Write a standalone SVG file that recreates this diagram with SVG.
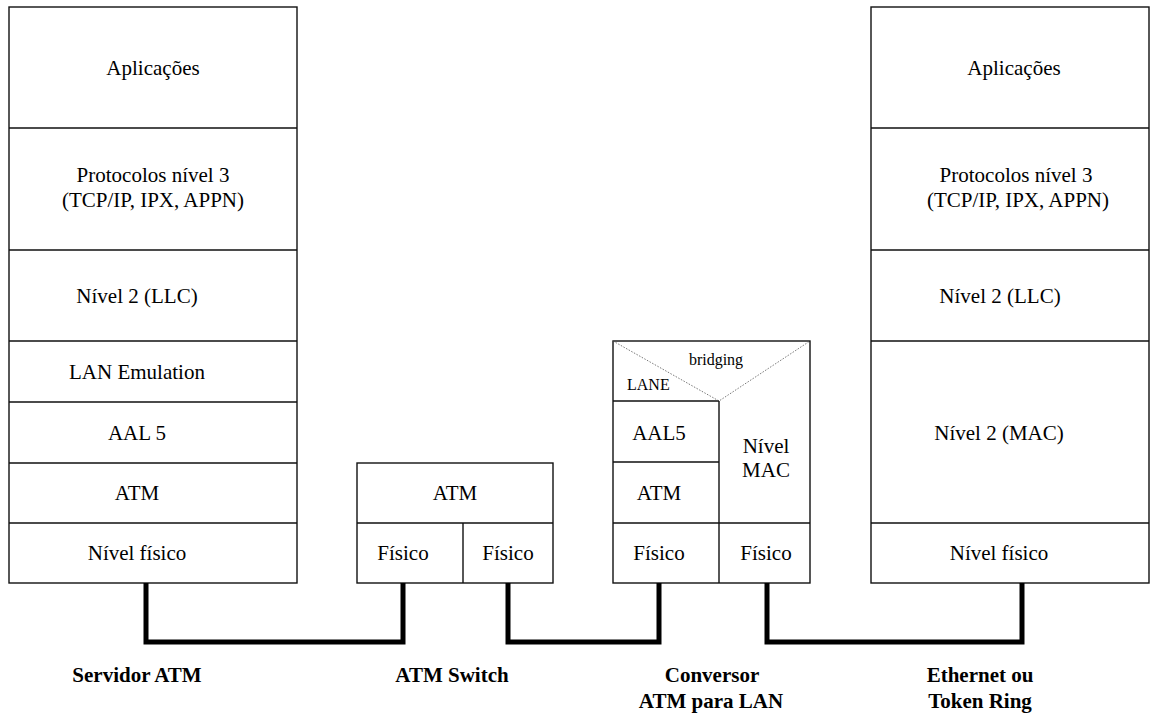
<svg xmlns="http://www.w3.org/2000/svg" width="1154" height="713" viewBox="0 0 1154 713">
<style>
.box{fill:#fff;stroke:#111;stroke-width:1.4}
.ln{stroke:#111;stroke-width:1.4;fill:none}
.dot{stroke:#555;stroke-width:0.8;stroke-dasharray:1.5 1.5;fill:none}
text{fill:#000;text-anchor:middle;font-family:'Liberation Serif','Times New Roman',serif}
.t{font-size:21px}
.ts{font-size:16px}
.lab{font-size:21px;font-weight:bold}
.wire{stroke:#000;stroke-width:5;fill:none}
</style>
<g id="servidor">
<rect class="box" x="9" y="7" width="288" height="576"/>
<path class="ln" d="M9 128H297M9 250H297M9 341H297M9 402H297M9 463H297M9 523H297"/>
<text class="t" x="153" y="75">Aplicações</text>
<text class="t" x="153" y="182">Protocolos nível 3</text>
<text class="t" x="153" y="207">(TCP/IP, IPX, APPN)</text>
<text class="t" x="137" y="303">Nível 2 (LLC)</text>
<text class="t" x="137" y="379">LAN Emulation</text>
<text class="t" x="137" y="440">AAL 5</text>
<text class="t" x="137" y="500">ATM</text>
<text class="t" x="137" y="560">Nível físico</text>
</g>
<g id="switch">
<rect class="box" x="357" y="463" width="196" height="120"/>
<path class="ln" d="M357 523H553M463 523V583"/>
<text class="t" x="455" y="500">ATM</text>
<text class="t" x="403" y="560">Físico</text>
<text class="t" x="508" y="560">Físico</text>
</g>
<g id="conversor">
<rect class="box" x="613" y="341" width="197" height="242"/>
<path class="ln" d="M613 401H719M613 462H719M613 523H810M719 401V583"/>
<path class="dot" d="M613 341L719 401L810 341"/>
<text class="ts" x="716" y="365">bridging</text>
<text class="ts" x="627" y="390" style="text-anchor:start">LANE</text>
<text class="t" x="659" y="440">AAL5</text>
<text class="t" x="659" y="500">ATM</text>
<text class="t" x="766" y="453">Nível</text>
<text class="t" x="766" y="477">MAC</text>
<text class="t" x="659" y="560">Físico</text>
<text class="t" x="766" y="560">Físico</text>
</g>
<g id="ethernet">
<rect class="box" x="871" y="7" width="278" height="576"/>
<path class="ln" d="M871 128H1149M871 250H1149M871 341H1149M871 523H1149"/>
<text class="t" x="1014" y="75">Aplicações</text>
<text class="t" x="1016" y="182">Protocolos nível 3</text>
<text class="t" x="1018" y="207">(TCP/IP, IPX, APPN)</text>
<text class="t" x="1000" y="303">Nível 2 (LLC)</text>
<text class="t" x="999" y="440">Nível 2 (MAC)</text>
<text class="t" x="999" y="560">Nível físico</text>
</g>
<g id="connectors">
<path class="wire" d="M146 583V642H403V583"/>
<path class="wire" d="M508 583V642H659V583"/>
<path class="wire" d="M767 583V642H1022V583"/>
</g>
<g id="labels">
<text class="lab" x="137" y="682">Servidor ATM</text>
<text class="lab" x="452" y="682">ATM Switch</text>
<text class="lab" x="712" y="682">Conversor</text>
<text class="lab" x="711" y="708">ATM para LAN</text>
<text class="lab" x="980" y="682">Ethernet ou</text>
<text class="lab" x="980" y="708">Token Ring</text>
</g>
</svg>
